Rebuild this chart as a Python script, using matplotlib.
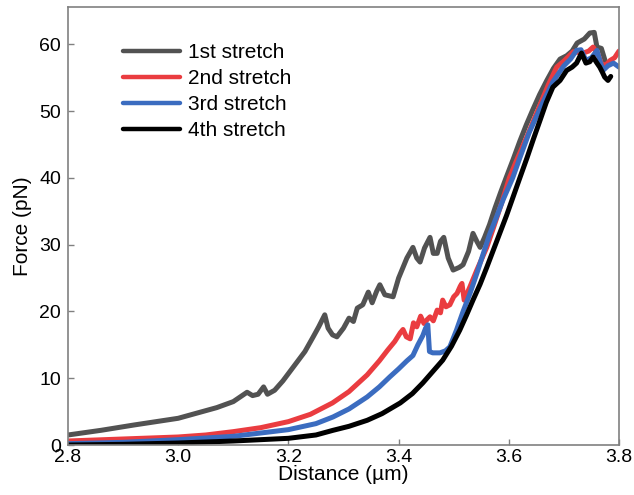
import matplotlib
matplotlib.use("Agg")
import matplotlib.pyplot as plt

plt.rcParams['font.family'] = ['Liberation Sans', 'DejaVu Sans']

# ---- data ----
x1 = [2.80, 2.86, 2.92, 3.00, 3.07, 3.10, 3.125, 3.135, 3.145, 3.155, 3.162, 3.175, 3.19, 3.21,
      3.23, 3.245, 3.255, 3.266, 3.272, 3.28, 3.288, 3.30, 3.31, 3.318, 3.325, 3.335, 3.345,
      3.352, 3.36, 3.366, 3.375, 3.39, 3.40, 3.415, 3.426, 3.433, 3.439, 3.447, 3.457, 3.463,
      3.47, 3.476, 3.482, 3.49, 3.499, 3.51, 3.517, 3.527, 3.535, 3.542, 3.548, 3.556, 3.565,
      3.575, 3.585, 3.595, 3.608, 3.62, 3.632, 3.644, 3.656, 3.669, 3.681, 3.693, 3.705, 3.715,
      3.724, 3.737, 3.747, 3.755, 3.760, 3.768, 3.775]
y1 = [1.5, 2.2, 3.0, 4.0, 5.6, 6.5, 7.9, 7.4, 7.6, 8.7, 7.6, 8.2, 9.6, 11.8,
      14.0, 16.2, 17.7, 19.5, 17.5, 16.5, 16.2, 17.5, 19.0, 18.5, 20.5, 21.0, 22.9,
      21.3, 23.0, 24.0, 22.5, 22.2, 25.0, 28.0, 29.6, 28.0, 27.4, 29.5, 31.1, 28.7,
      28.7, 30.5, 31.1, 28.0, 26.2, 26.6, 27.0, 29.0, 31.7, 30.5, 29.6, 31.1, 33.0,
      35.5, 37.8, 40.0, 42.8, 45.5, 48.0, 50.3, 52.5, 54.6, 56.4, 57.8, 58.3, 59.0,
      60.2, 60.8, 61.7, 61.8, 59.6, 59.4, 57.5]

x2 = [2.80, 2.9, 3.0, 3.05, 3.1, 3.15, 3.2, 3.24, 3.28, 3.31, 3.343, 3.365, 3.38, 3.393, 3.403,
      3.408, 3.414, 3.421, 3.427, 3.433, 3.44, 3.446, 3.452, 3.457, 3.463, 3.47, 3.476, 3.48,
      3.486, 3.493, 3.5, 3.506, 3.512, 3.515, 3.519, 3.53, 3.542, 3.56, 3.572, 3.586, 3.601,
      3.615, 3.633, 3.657, 3.672, 3.687, 3.70, 3.717, 3.735, 3.745, 3.753, 3.762, 3.769, 3.777,
      3.784, 3.792, 3.80]
y2 = [0.6, 0.9, 1.2, 1.5, 2.0, 2.6, 3.5, 4.6, 6.3, 8.0, 10.5, 12.6, 14.2, 15.5, 16.8,
      17.3, 16.2, 15.9, 18.3, 17.7, 19.3, 18.2, 18.8, 19.2, 18.6, 20.2, 19.8, 21.7,
      20.7, 21.0, 22.2, 22.7, 23.8, 24.2, 21.7, 23.8, 26.2, 29.6, 32.5, 36.0, 40.0,
      42.8, 46.2, 51.0, 54.0, 56.6, 57.5, 58.9, 58.7, 59.0, 59.6, 58.5, 56.9, 57.0,
      57.6, 58.0, 59.0]

x3 = [2.80, 2.9, 3.0, 3.1, 3.15, 3.2, 3.25, 3.281, 3.31, 3.343, 3.365, 3.384, 3.40, 3.415,
      3.426, 3.435, 3.444, 3.449, 3.453, 3.456, 3.462, 3.475, 3.485, 3.493, 3.505, 3.517,
      3.53, 3.542, 3.553, 3.565, 3.577, 3.59, 3.607, 3.62, 3.637, 3.66, 3.68, 3.70, 3.712,
      3.723, 3.731, 3.74, 3.75, 3.76, 3.766, 3.771, 3.78, 3.79, 3.80]
y3 = [0.2, 0.4, 0.8, 1.3, 1.8, 2.3, 3.2, 4.2, 5.4, 7.2, 8.7, 10.2, 11.4, 12.6,
      13.4, 15.0, 16.4, 17.5, 18.0, 14.0, 13.8, 13.8, 14.1, 14.7, 17.2, 20.0,
      22.8, 25.7, 28.5, 31.5, 34.0, 36.8, 40.0, 43.0, 46.8, 51.0, 54.4, 56.8, 57.8,
      59.1, 59.2, 57.6, 58.0, 59.1, 57.4, 56.1, 56.8, 57.2, 56.6]

x4 = [2.80, 2.9, 3.0, 3.1, 3.2, 3.25, 3.281, 3.31, 3.343, 3.37, 3.403, 3.425, 3.444, 3.462,
      3.48, 3.496, 3.511, 3.523, 3.535, 3.548, 3.56, 3.572, 3.584, 3.596, 3.608, 3.62, 3.633,
      3.645, 3.657, 3.668, 3.68, 3.693, 3.705, 3.715, 3.723, 3.732, 3.74, 3.747, 3.753, 3.76,
      3.765, 3.77, 3.774, 3.78, 3.785]
y4 = [0.0, 0.1, 0.3, 0.6, 1.0, 1.5, 2.2, 2.8, 3.7, 4.7, 6.3, 7.7, 9.3, 11.0,
      12.7, 14.8, 17.2, 19.4, 21.7, 24.1, 26.6, 29.2, 31.8, 34.4, 37.2, 40.0, 43.0,
      45.9, 48.7, 51.3, 53.6, 54.6, 56.1, 56.6, 57.2, 58.7, 57.2, 57.4, 58.1, 57.2,
      56.6, 55.8, 55.1, 54.6, 55.2]

labels = ["1st stretch", "2nd stretch", "3rd stretch", "4th stretch"]
colors = ["#525252", "#ea3c40", "#3b6cc0", "#000000"]

xticks = [2.8, 3.0, 3.2, 3.4, 3.6, 3.8]
yticks = [0, 10, 20, 30, 40, 50, 60]

# ---- figure ----
fig = plt.figure(figsize=(6.34, 4.95), dpi=100)
ax = fig.add_axes([68/634, 50/495, 551/634, 438/495])

for xs, ys, lab, c in zip([x1, x2, x3, x4], [y1, y2, y3, y4], labels, colors):
    ax.plot(xs, ys, color=c, lw=3.6, label=lab, solid_joinstyle='round', solid_capstyle='round')

ax.set_xlim(2.8, 3.8)
ax.set_ylim(0, 65.6)
ax.set_xticks(xticks)
ax.set_xticklabels([f"{t:.1f}" for t in xticks])
ax.set_yticks(yticks)

for s in ax.spines.values():
    s.set_color("#808080")
    s.set_linewidth(1.2)

ax.tick_params(direction='in', length=4, width=1.0, color="#808080",
               labelsize=14, labelcolor="black")
ax.tick_params(axis='x', pad=3)
ax.tick_params(axis='y', pad=5)

ax.set_xlabel("Distance (µm)", fontsize=15, labelpad=-1)
ax.set_ylabel("Force (pN)", fontsize=15, labelpad=5)

leg = ax.legend(loc='upper left', bbox_to_anchor=(0.0998, 0.918), frameon=False,
                fontsize=15, handlelength=2.74, handletextpad=0.38, labelspacing=0.34,
                borderaxespad=0, borderpad=0)
for h in leg.get_lines():
    h.set_linewidth(3.2)

fig.savefig("out.png", dpi=100)
